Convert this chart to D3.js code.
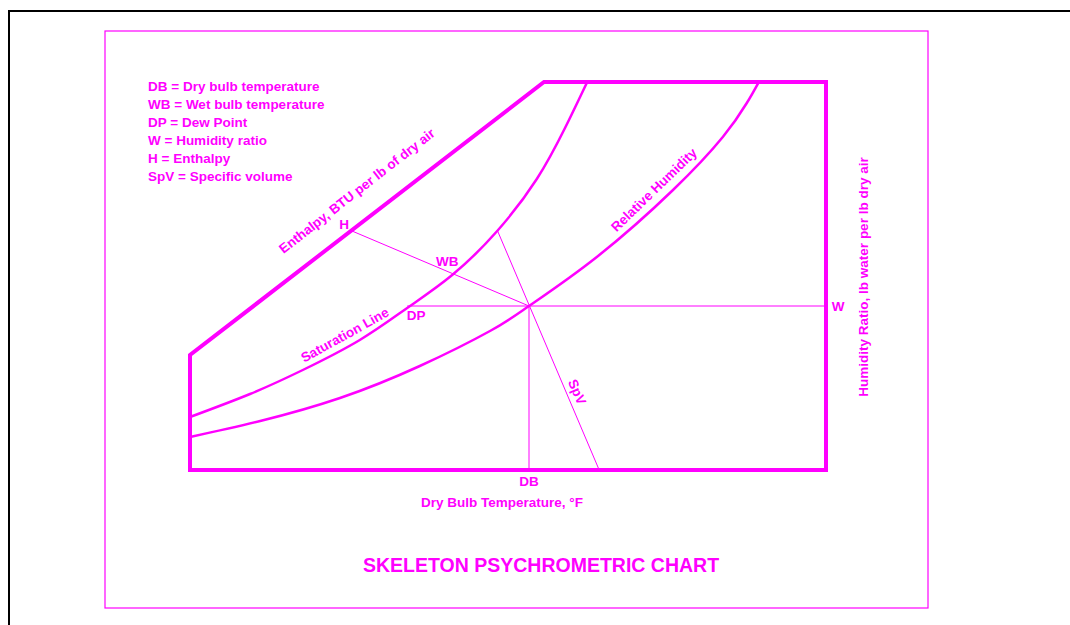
<!DOCTYPE html>
<html><head><meta charset="utf-8">
<script src="https://cdn.jsdelivr.net/npm/d3@7"></script>
<style>
html,body{margin:0;padding:0;background:#fff;}
svg{display:block;}
text{font-family:"Liberation Sans",Arial,sans-serif;font-weight:bold;fill:#ff00ff;}
</style></head>
<body>
<svg id="c" width="1070" height="625"></svg>
<script>
// ---- data (dry bulb °F, humidity ratio in grains per lb) ----
const dbDomain = [30, 136];
const wDomain = [0, 194];
const saturationT = [30, 40, 48.8, 58.3, 66.2, 73.7, 81.2, 87.8, 92.5, 96.2];
const saturationW = [26.5, 38, 50, 65, 81, 97.5, 119.5, 145.5, 171, 194];
const rhT = [30, 41.7, 55, 68.3, 80, 86.5, 97.8, 110.5, 118.8, 122.8, 124.8];
const rhW = [16.5, 24.5, 36, 52, 69.5, 82, 106.5, 140, 166.5, 183.5, 194];
const frameT = [30, 136, 136, 89, 30, 30];
const frameW = [0, 0, 194, 194, 57.5, 0];
const statePoint = {t: 86.5, w: 82};
const dewPoint = {t: 66.2, w: 82};
const wetBulb = {t: 73.7, w: 97.5};
const enthalpyPoint = {t: 57, w: 119.5};
const spvTop = {t: 81.2, w: 120};
const spvBottom = {t: 98.2, w: 0};
const legendLines = ["DB = Dry bulb temperature", "WB = Wet bulb temperature", "DP = Dew Point",
  "W = Humidity ratio", "H = Enthalpy", "SpV = Specific volume"];
const title = "SKELETON PSYCHROMETRIC CHART";
const xTitle = "Dry Bulb Temperature, \u00B0F";
const yTitle = "Humidity Ratio, lb water per lb dry air";

const MAG = "#ff00ff";
const svg = d3.select("#c");

// outer black border (extends past window)
svg.append("rect").attr("x", 9).attr("y", 11).attr("width", 1200).attr("height", 800)
  .attr("fill", "none").attr("stroke", "#000").attr("stroke-width", 2);
// inner magenta border
svg.append("rect").attr("x", 105).attr("y", 31).attr("width", 823).attr("height", 577)
  .attr("fill", "none").attr("stroke", MAG).attr("stroke-width", 1.2);

const x = d3.scaleLinear().domain(dbDomain).range([190, 826]);
const y = d3.scaleLinear().domain(wDomain).range([470, 82]);
const line = d3.line().x(d => x(d[0])).y(d => y(d[1]));
const curve = d3.line().x(d => x(d[0])).y(d => y(d[1])).curve(d3.curveNatural);

const g = svg.append("g");

// thin construction lines
function seg(a, b) {
  g.append("path").attr("d", line([[a.t, a.w], [b.t, b.w]]))
    .attr("stroke", MAG).attr("stroke-width", 1).attr("fill", "none");
}
seg(enthalpyPoint, statePoint);            // enthalpy / wet bulb line
seg(dewPoint, {t: dbDomain[1], w: statePoint.w}); // humidity ratio line
seg(statePoint, {t: statePoint.t, w: 0});  // dry bulb line
seg(spvTop, spvBottom);                    // specific volume line

// curves
g.append("path").attr("d", curve(saturationT.map((t, i) => [t, saturationW[i]])))
  .attr("stroke", MAG).attr("stroke-width", 2.5).attr("fill", "none");
g.append("path").attr("d", curve(rhT.map((t, i) => [t, rhW[i]])))
  .attr("stroke", MAG).attr("stroke-width", 2.5).attr("fill", "none");

// frame
g.append("path").attr("d", line(frameT.map((t, i) => [t, frameW[i]])) + "Z")
  .attr("stroke", MAG).attr("stroke-width", 4).attr("fill", "none").attr("stroke-linejoin", "miter");

// legend
svg.append("g").selectAll("text").data(legendLines).join("text")
  .attr("x", 148).attr("y", (d, i) => 91 + i * 18).attr("font-size", 13.5).text(d => d);

// labels
function lab(txt, px, py, rot, size) {
  svg.append("text").attr("transform", `translate(${px},${py}) rotate(${rot || 0})`)
    .attr("text-anchor", "middle").attr("dominant-baseline", "central")
    .attr("font-size", size || 13.5).text(txt);
}
lab("Enthalpy, BTU per lb of dry air", 357, 191, -38);
lab("H", x(enthalpyPoint.t) - 8, y(enthalpyPoint.w) - 7);
lab("WB", x(wetBulb.t) - 5, y(wetBulb.w) - 14);
lab("DP", x(dewPoint.t) + 9, y(dewPoint.w) + 9);
lab("Saturation Line", 345, 335, -29);
lab("Relative Humidity", 654, 190, -44);
lab("SpV", 577, 392, 67);
lab("W", x(dbDomain[1]) + 12, y(statePoint.w));
lab("DB", x(statePoint.t), 481);
lab(xTitle, 502, 502);
lab(yTitle, 863, 277, -90);
lab(title, 541, 565, 0, 19.5);
</script>
</body></html>
